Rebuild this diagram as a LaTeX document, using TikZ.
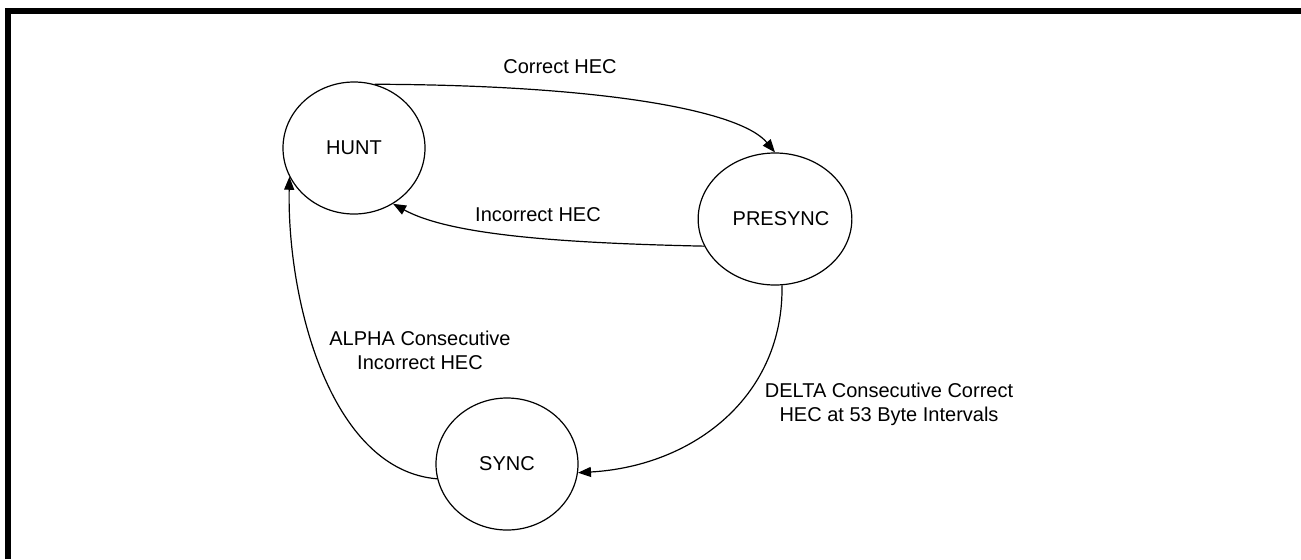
\documentclass[tikz,border=0pt]{standalone}
\usepackage{fontspec}
\setmainfont{Liberation Sans}
\usetikzlibrary{shapes.geometric,arrows.meta}
\begin{document}
\begin{tikzpicture}[x=0.5pt,y=-0.5pt,
  state/.style={draw,ellipse,line width=0.6pt,minimum width=71pt,minimum height=66pt,inner sep=0pt,font=\fontsize{10}{12}\selectfont},
  lbl/.style={inner sep=0pt,align=center,font=\fontsize{10}{12}\selectfont},
  trans/.style={line width=0.6pt,-{Triangle[length=6.5pt,width=5pt]}}]
\useasboundingbox (0,0) rectangle (1301,559);
\draw[line width=3pt] (8,559) -- (8,11) -- (1301,11);
\node[state] (hunt) at (354,148) {HUNT};
\node[state] (presync) at (775,219) {\hspace*{6pt}PRESYNC};
\node[state] (sync) at (507,464) {SYNC};
\draw[trans] (hunt.72) .. controls (600,85) and (740,110) .. (presync.north);
\draw[trans] (presync.201) .. controls (560,243) and (450,235) .. (hunt.305);
\draw[trans] (presync.-84) .. controls (784,395) and (695,466) .. (sync.-7);
\draw[trans] (sync.192) .. controls (330,470) and (287,300) .. (hunt.204);
\node[lbl] (l1) at (560,67) {Correct HEC};
\node[lbl] (l2) at (538,215) {Incorrect HEC};
\node[lbl] (l3) at (420,350) {ALPHA Consecutive\\Incorrect HEC};
\node[lbl] (l4) at (889,404) {DELTA Consecutive Correct\\HEC at 53 Byte Intervals};
\end{tikzpicture}
\end{document}
